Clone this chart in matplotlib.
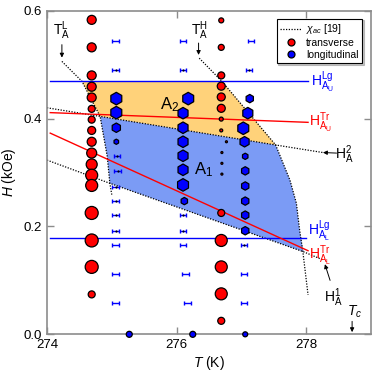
import numpy as np
import matplotlib
matplotlib.use("Agg")
import matplotlib.pyplot as plt

plt.rcParams['font.family'] = ['Liberation Sans', 'DejaVu Sans']
plt.rcParams['mathtext.fontset'] = 'custom'
plt.rcParams['mathtext.rm'] = 'Liberation Sans'
plt.rcParams['mathtext.it'] = 'Liberation Sans:italic'
plt.rcParams['mathtext.sf'] = 'Liberation Sans'

# transverse (red circles): T, H, marker diameter in px
red_T = [274.69] * 17 + [276.69] * 8 + [276.77, 276.70, 276.70, 276.70] + [276.69] * 5
red_H = [0.583, 0.532, 0.480, 0.459, 0.439, 0.418, 0.398, 0.378, 0.357, 0.336,
         0.315, 0.295, 0.276, 0.225, 0.174, 0.125, 0.074,
         0.582, 0.532, 0.480, 0.460, 0.440, 0.419, 0.399, 0.378,
         0.357, 0.337, 0.317, 0.297,
         0.225, 0.174, 0.125, 0.075, 0.025]
red_d = [9, 9, 9, 9, 9, 7, 7, 8, 9, 10, 11, 12, 12, 13, 13, 13, 7,
         5, 6, 7, 8, 8, 8, 4, 3,
         2, 2, 2, 2,
         7, 12, 12, 12, 7]

# longitudinal (blue hexagons)
hex_T = [275.07, 275.07, 275.07, 275.07,
         276.18, 276.10, 276.10, 276.10, 276.10, 276.10, 276.10, 276.12,
         277.13, 277.10, 277.03, 277.05, 277.06, 277.06, 277.06, 277.06, 277.06, 277.06]
hex_H = [0.437, 0.411, 0.383, 0.357,
         0.437, 0.410, 0.383, 0.357, 0.331, 0.305, 0.277, 0.247,
         0.437, 0.410, 0.382, 0.357, 0.330, 0.303, 0.275, 0.247, 0.221, 0.192]
hex_d = [12, 12, 9, 5,
         12, 11, 11, 11, 11, 11, 12, 7,
         8, 11, 12, 10, 6, 8, 8, 8, 8, 8]

# longitudinal at zero field
zero_T = [275.27, 276.25, 277.06]
zero_H = [0.0, 0.0, 0.0]
zero_d = [6, 6, 5]

# blue error-bar points (with black centre)
ebd_T = [275.06, 275.08, 275.09, 275.06, 275.06, 275.06, 275.06,
         276.10, 276.10, 276.10, 277.12, 277.04]
ebd_H = [0.490, 0.330, 0.303, 0.274, 0.247, 0.221, 0.192,
         0.490, 0.221, 0.192, 0.490, 0.165]
# blue error-bar points (plain)
ebp_T = [275.06, 275.06, 275.06, 275.06,
         276.10, 276.10, 276.14, 276.17,
         277.15, 277.04, 277.04]
ebp_H = [0.544, 0.165, 0.111, 0.0575,
         0.544, 0.165, 0.111, 0.0575,
         0.543, 0.111, 0.0575]
eb_dT = 0.05

# lines
lg_up_T, lg_up_H = [274.05, 278.03], [0.469, 0.469]
lg_lo_T, lg_lo_H = [274.05, 278.0], [0.179, 0.179]
tr_up_T, tr_up_H = [274.05, 278.03], [0.411, 0.393]
tr_lo_T, tr_lo_H = [274.05, 278.03], [0.373, 0.155]

# chi_ac boundaries (dotted)
TAL_T = [274.23, 274.54, 274.82, 274.93, 274.97, 275.0]
TAL_H = [0.506, 0.469, 0.404, 0.33, 0.280, 0.259]
TAH_T = [276.35, 276.70, 277.53, 277.75, 277.85, 277.90, 277.95, 278.03]
TAH_H = [0.512, 0.469, 0.351, 0.286, 0.243, 0.193, 0.153, 0.073]
H2_T = [274.0, 274.82, 277.53, 278.26]
H2_H = [0.420, 0.404, 0.351, 0.337]
H1_T = [274.0, 274.97, 277.96, 278.26]
H1_H = [0.323, 0.280, 0.153, 0.138]

# phase regions
A2_T = [274.54, 276.70, 277.53, 274.82]
A2_H = [0.469, 0.469, 0.351, 0.404]
A1_T = [274.82, 277.53, 277.75, 277.85, 277.90, 277.96, 274.97, 274.93]
A1_H = [0.404, 0.351, 0.286, 0.243, 0.193, 0.153, 0.280, 0.33]

fig = plt.figure(figsize=(3.9, 3.75), dpi=100)
ax = fig.add_axes([0.1205, 0.1085, 0.8305, 0.863])

ax.fill(A2_T, A2_H, color='#FFD27A', lw=0, zorder=1)
ax.fill(A1_T, A1_H, color='#7B9BF5', lw=0, zorder=1)

dot = dict(color='black', ls=(0, (1, 1.2)), lw=0.9, zorder=2)
ax.plot(TAL_T, TAL_H, **dot)
ax.plot(TAH_T, TAH_H, **dot)
ax.plot(H2_T, H2_H, **dot)
ax.plot(H1_T, H1_H, **dot)

ax.plot(lg_up_T, lg_up_H, color='blue', lw=1, zorder=3)
ax.plot(lg_lo_T, lg_lo_H, color='blue', lw=1, zorder=3)
ax.plot(tr_up_T, tr_up_H, color='red', lw=1, zorder=3)
ax.plot(tr_lo_T, tr_lo_H, color='red', lw=1, zorder=3)

px2pt = 72.0 / fig.dpi
ax.errorbar(ebp_T, ebp_H, xerr=eb_dT, fmt='none', ecolor='blue', elinewidth=1,
            capsize=1.6, capthick=1, zorder=4)
ax.errorbar(ebd_T, ebd_H, xerr=eb_dT, fmt='none', ecolor='blue', elinewidth=1,
            capsize=1.6, capthick=1, zorder=4)
ax.scatter(ebd_T, ebd_H, s=(2.2 * px2pt) ** 2, color='black', lw=0, zorder=5)

ax.scatter(red_T, red_H, s=(np.array(red_d) * px2pt) ** 2, marker='o', facecolor='red',
           edgecolor='black', linewidth=0.9, zorder=6)
ax.scatter(hex_T, hex_H, s=(np.array(hex_d) * 1.05 * px2pt) ** 2, marker='h', facecolor='blue',
           edgecolor='black', linewidth=0.9, zorder=6)
ax.scatter(zero_T, zero_H, s=(np.array(zero_d) * px2pt) ** 2, marker='o', facecolor='blue',
           edgecolor='black', linewidth=0.9, zorder=7, clip_on=False)

# region labels
ax.text(275.9, 0.425, r'A$_2$', fontsize=12, ha='center', va='center', zorder=8)
ax.text(276.42, 0.305, r'A$_1$', fontsize=12, ha='center', va='center', zorder=8)

# line labels
ax.text(278.08, 0.468, r'$\mathrm{H^{Lg}_{A_U}}$', color='blue', fontsize=10, va='center')
ax.text(278.05, 0.392, r'$\mathrm{H^{Tr}_{A_U}}$', color='red', fontsize=10, va='center')
ax.text(278.45, 0.333, r'$\mathrm{H^{2}_{A}}$', color='black', fontsize=10, va='center')
ax.text(278.03, 0.192, r'$\mathrm{H^{Lg}_{A_L}}$', color='blue', fontsize=10, va='center')
ax.text(278.05, 0.145, r'$\mathrm{H^{Tr}_{A_L}}$', color='red', fontsize=10, va='center')
ax.text(278.27, 0.068, r'$\mathrm{H^{1}_{A}}$', color='black', fontsize=10, va='center')
ax.text(274.23, 0.563, r'$\mathrm{T^{L}_{A}}$', color='black', fontsize=10, ha='center', va='center')
ax.text(276.36, 0.563, r'$\mathrm{T^{H}_{A}}$', color='black', fontsize=10, ha='center', va='center')
ax.text(278.63, 0.042, r'$T_c$', color='black', fontsize=10, va='center')

arr = dict(arrowstyle='-|>', color='black', lw=0.7, mutation_scale=6, shrinkA=0, shrinkB=0)
ax.annotate('', xy=(274.23, 0.513), xytext=(274.23, 0.537), arrowprops=arr)
ax.annotate('', xy=(276.34, 0.518), xytext=(276.34, 0.540), arrowprops=arr)
ax.annotate('', xy=(278.26, 0.337), xytext=(278.47, 0.336), arrowprops=arr)
ax.annotate('', xy=(278.29, 0.130), xytext=(278.37, 0.100), arrowprops=arr)
ax.annotate('', xy=(278.71, 0.004), xytext=(278.71, 0.024), arrowprops=arr)

# legend
ax.plot([], [], **{k: v for k, v in dot.items() if k != 'zorder'}, label=r'$\chi_{ac}$ [19]')
ax.plot([], [], 'o', mfc='red', mec='black', ms=5, mew=0.9, label='transverse')
ax.plot([], [], 'o', mfc='blue', mec='black', ms=5, mew=0.9, label='longitudinal')
leg = ax.legend(loc='upper right', bbox_to_anchor=(0.974, 0.975), borderaxespad=0,
                fontsize=7.5, fancybox=False, edgecolor='black', framealpha=1,
                handlelength=2.0, handletextpad=0.5, labelspacing=0.15, borderpad=0.35,
                numpoints=1, shadow={'ox': 1.2, 'oy': -1.2, 'color': '0.55'})
leg.get_frame().set_linewidth(0.8)

ax.set_xlim(274, 279)
ax.set_ylim(0, 0.6)
ax.set_xticks([274, 276, 278])
ax.set_yticks([0.0, 0.2, 0.4, 0.6])
ax.set_yticklabels(['0.0', '0.2', '0.4', '0.6'])
for s in ax.spines.values():
    s.set_color('0.55')
    s.set_linewidth(1.2)
ax.tick_params(direction='in', length=5, width=1, color='0.55', top=True, right=True,
               labelsize=9.5, pad=3.5)
ax.set_xlabel(r'$T$ (K)', fontsize=10, labelpad=2)
ax.set_ylabel(r'$H$ (kOe)', fontsize=10, labelpad=4)

fig.savefig('out.png', dpi=100)
